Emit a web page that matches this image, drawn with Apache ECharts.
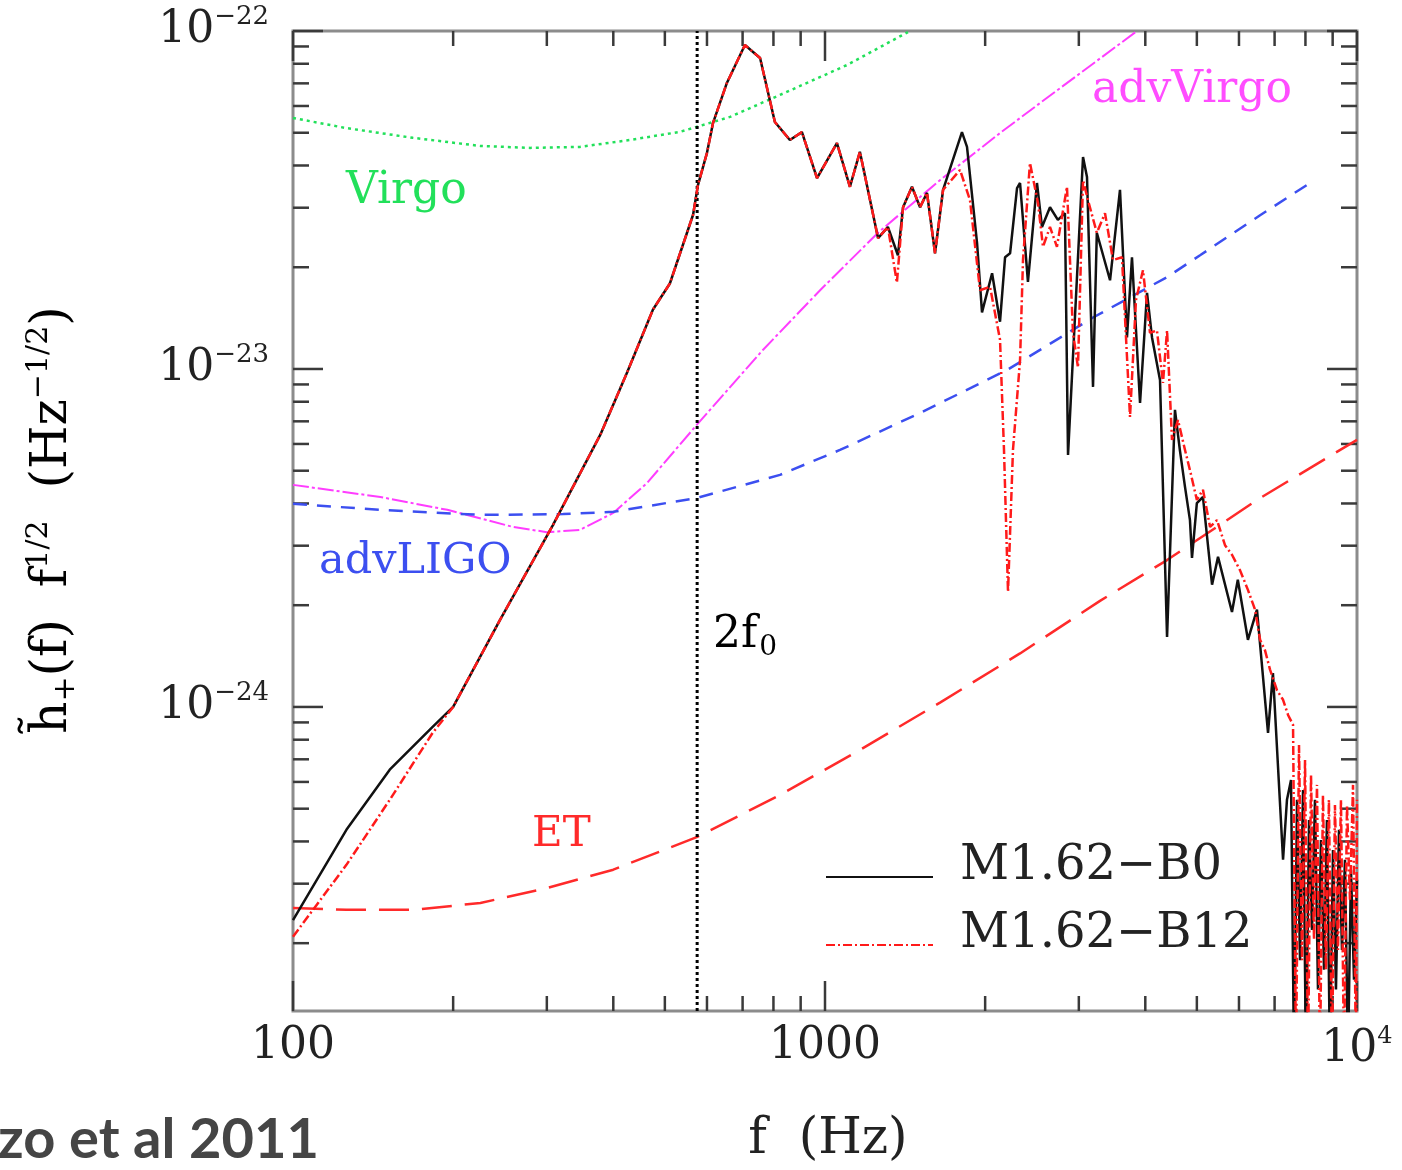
<!DOCTYPE html>
<html><head><meta charset="utf-8">
<script src="https://cdn.jsdelivr.net/npm/echarts@6/dist/echarts.min.js"></script>
<style>html,body{margin:0;padding:0;background:#fff}#c{width:1402px;height:1170px}</style>
</head><body><div id="c"></div>
<script>
// ---- axis ticks / labels ----
const xMajorTicks = [100, 1000, 10000];
const xMinorTicks = [200, 300, 400, 500, 600, 700, 800, 900, 2000, 3000, 4000, 5000, 6000, 7000, 8000, 9000];
const yMajorTicks = [1e-24, 1e-23, 1e-22];
const yMinorTicks = [2e-25, 3e-25, 4e-25, 5e-25, 6e-25, 7e-25, 8e-25, 9e-25,
  2e-24, 3e-24, 4e-24, 5e-24, 6e-24, 7e-24, 8e-24, 9e-24,
  2e-23, 3e-23, 4e-23, 5e-23, 6e-23, 7e-23, 8e-23, 9e-23];
const xLabelValues = [100, 1000, 10000];
const xLabelTexts = ['{b|100}', '{b|1000}', '{b|10}{s|4}'];
const yLabelValues = [1e-24, 1e-23, 1e-22];
const yLabelTexts = ['{b|10}{s|−24}', '{b|10}{s|−23}', '{b|10}{s|−22}'];
const xMin = 100, xMax = 10000, yMin = 1.26e-25, yMax = 1e-22;
const twoF0 = 575;

// ---- detector curves [f (Hz), h f^1/2] ----
const virgo = [[100,5.53e-23],[126,5.16e-23],[168,4.83e-23],[225,4.57e-23],[279,4.51e-23],[346,4.54e-23],
  [430,4.76e-23],[534,5.03e-23],[663,5.57e-23],[823,6.47e-23],[1100,7.93e-23],[1432,9.93e-23]];
const advVirgo = [[100,4.54e-24],[146,4.18e-24],[195,3.83e-24],[259,3.41e-24],[300,3.29e-24],[346,3.34e-24],
  [400,3.75e-24],[463,4.60e-24],[574,6.83e-24],[765,1.14e-23],[979,1.71e-23],[1258,2.53e-23],[1645,3.62e-23],
  [2133,4.99e-23],[2536,6.12e-23],[3148,7.88e-23],[3859,1.0e-22]];
const advLIGO = [[100,3.99e-24],[146,3.83e-24],[225,3.70e-24],[322,3.72e-24],[400,3.78e-24],[574,4.15e-24],
  [823,4.86e-24],[1067,5.76e-24],[1509,7.41e-24],[2199,9.93e-24],[3190,1.42e-23],[4395,1.87e-23],
  [5070,2.17e-23],[6574,2.85e-23],[8160,3.55e-23]];
const einsteinTel = [[100,2.54e-25],[126,2.51e-25],[168,2.51e-25],[225,2.63e-25],[300,2.91e-25],[400,3.30e-25],
  [574,4.12e-25],[823,5.49e-25],[1163,7.46e-25],[1645,1.03e-24],[2326,1.44e-24],[3288,2.06e-24],
  [4395,2.72e-24],[6574,4.15e-24],[10000,6.17e-24]];

// ---- signal spectra ----
const m162B0 = [[100,2.34e-25],[126,4.33e-25],[152,6.52e-25],[183,8.73e-25],[200,1.0e-24],[245,1.81e-24],
  [308,3.45e-24],[378,6.38e-24],[425,9.8e-24],[475,1.50e-23],[511,1.79e-23],[565,2.86e-23],[577,3.50e-23],
  [600,4.36e-23],[616,5.35e-23],[654,7.02e-23],[707,9.09e-23],[755,8.32e-23],[805,5.38e-23],[859,4.76e-23],
  [905,5.02e-23],[966,3.67e-23],[1053,4.66e-23],[1114,3.46e-23],[1163,4.39e-23],[1258,2.44e-23],
  [1313,2.63e-23],[1371,2.17e-23],[1402,3.01e-23],[1457,3.46e-23],[1509,3.01e-23],[1555,3.32e-23],
  [1610,2.20e-23],[1667,3.39e-23],[1809,5.02e-23],[1849,4.54e-23],[1931,2.36e-23],[1973,1.47e-23],
  [2061,1.92e-23],[2133,1.38e-23],[2180,2.14e-23],[2228,2.20e-23],[2296,3.43e-23],[2326,3.55e-23],
  [2407,1.81e-23],[2503,3.55e-23],[2558,2.63e-23],[2648,3.01e-23],[2740,2.76e-23],[2825,2.89e-23],
  [2863,5.57e-24],[3055,4.24e-23],[3108,3.70e-23],[3190,8.85e-24],[3243,2.53e-23],[3434,1.83e-23],
  [3585,3.39e-23],[3695,1.24e-23],[3776,2.14e-23],[3910,7.93e-24],[4030,1.68e-23],[4118,1.24e-23],
  [4263,9.28e-24],[4395,1.61e-24],[4548,7.57e-24],[4645,5.76e-24],[4750,4.48e-24],[4853,3.57e-24],
  [4896,2.76e-24],[5000,4.01e-24],[5134,4.18e-24],[5340,2.30e-24],[5480,2.78e-24],[5821,1.91e-24],
  [5970,2.38e-24],[6237,1.58e-24],[6486,1.94e-24],[6804,8.38e-25],[6950,1.26e-24],[7261,3.53e-25],
  [7385,5.31e-25],[7516,6.08e-25],[7615,9e-26],[7714,5.31e-25],[7815,1.78e-25],[7917,5.68e-25],
  [8020,9e-26],[8125,4.63e-25],[8230,2.19e-25],[8337,5.31e-25],[8446,1.46e-25],[8556,4.04e-25],
  [8670,1.67e-25],[8780,4.63e-25],[8896,9e-26],[9013,3.77e-25],[9130,1.46e-25],[9250,4.33e-25],
  [9371,1.91e-25],[9493,3.53e-25],[9617,9e-26],[9743,3.30e-25],[9871,1.56e-25],[10000,3.08e-25]];
const m162B12 = [[100,2.09e-25],[126,3.41e-25],[152,5.31e-25],[183,8.38e-25],[200,1.0e-24],[245,1.81e-24],
  [308,3.45e-24],[378,6.38e-24],[425,9.8e-24],[475,1.50e-23],[511,1.79e-23],[565,2.86e-23],[577,3.50e-23],
  [600,4.36e-23],[616,5.35e-23],[654,7.02e-23],[707,9.09e-23],[755,8.32e-23],[805,5.38e-23],[859,4.76e-23],
  [905,5.02e-23],[966,3.67e-23],[1053,4.66e-23],[1114,3.46e-23],[1163,4.39e-23],[1258,2.44e-23],
  [1313,2.63e-23],[1365,1.80e-23],[1402,3.01e-23],[1457,3.46e-23],[1509,3.01e-23],[1555,3.32e-23],
  [1610,2.20e-23],[1667,3.39e-23],[1794,3.88e-23],[1873,3.16e-23],[1956,1.71e-23],[2043,1.75e-23],
  [2133,1.22e-23],[2170,5.76e-24],[2208,2.19e-24],[2256,5.76e-24],[2326,1.06e-23],[2356,2.10e-23],
  [2428,4.07e-23],[2514,3.10e-23],[2569,2.30e-23],[2648,2.63e-23],[2729,2.30e-23],[2850,3.46e-23],
  [2925,1.28e-23],[2989,1.01e-23],[3055,3.62e-23],[3121,3.16e-23],[3243,2.53e-23],[3360,2.89e-23],
  [3478,2.10e-23],[3616,2.14e-23],[3744,7.21e-24],[3842,1.60e-23],[3960,1.96e-23],[4082,1.28e-23],
  [4207,1.30e-23],[4318,9.09e-24],[4395,1.30e-23],[4490,6.17e-24],[4608,7.06e-24],[4750,5.76e-24],
  [4853,5.02e-24],[5000,4.10e-24],[5134,4.39e-24],[5294,3.41e-24],[5456,3.57e-24],[5648,3.01e-24],
  [5821,2.82e-24],[6026,2.54e-24],[6237,2.22e-24],[6433,1.94e-24],[6574,1.58e-24],[6716,1.47e-24],
  [6863,1.29e-24],[7074,1.12e-24],[7261,1.05e-24],[7420,9.47e-25],[7582,8.85e-25],[7680,9e-26],
  [7780,7.72e-25],[7883,1.78e-25],[7986,6.97e-25],[8090,9e-26],[8195,6.29e-25],[8302,2.05e-25],
  [8410,5.88e-25],[8520,9e-26],[8630,5.49e-25],[8742,1.67e-25],[8856,5.31e-25],[8974,9e-26],
  [9090,5.13e-25],[9210,1.91e-25],[9330,5.31e-25],[9454,9e-26],[9576,5.13e-25],[9700,2.69e-25],
  [9829,5.88e-25],[9954,9e-26],[10000,5.31e-25]];

const SERIF = 'DejaVu Serif';
const chart = echarts.init(document.getElementById('c'), null, {renderer: 'canvas'});

const tickStyle = {stroke: '#3a3a3a', lineWidth: 2.5};
function renderXTick(params, api) {
  const cs = params.coordSys;
  const p = api.coord([api.value(0), api.value(1)]);
  const L = api.value(2) ? 30 : 15;
  const b = cs.y + cs.height;
  return {type: 'group', children: [
    {type: 'line', shape: {x1: p[0], y1: b, x2: p[0], y2: b - L}, style: tickStyle},
    {type: 'line', shape: {x1: p[0], y1: cs.y, x2: p[0], y2: cs.y + L}, style: tickStyle}
  ]};
}
function renderYTick(params, api) {
  const cs = params.coordSys;
  const p = api.coord([api.value(0), api.value(1)]);
  const L = api.value(2) ? 30 : 16;
  const r = cs.x + cs.width;
  return {type: 'group', children: [
    {type: 'line', shape: {x1: cs.x, y1: p[1], x2: cs.x + L, y2: p[1]}, style: tickStyle},
    {type: 'line', shape: {x1: r, y1: p[1], x2: r - L, y2: p[1]}, style: tickStyle}
  ]};
}
const yLabelRich = {
  b: {fontFamily: SERIF, fontSize: 44, fill: '#222', color: '#222'},
  s: {fontFamily: SERIF, fontSize: 26, fill: '#222', color: '#222', padding: [0, 0, 28, 0]}
};
function renderYLabel(params, api) {
  const cs = params.coordSys;
  const p = api.coord([api.value(0), api.value(1)]);
  const i = api.value(2);
  return {type: 'text', x: cs.x - 24, y: p[1], silent: true,
    style: {text: yLabelTexts[i], rich: yLabelRich, align: 'right', verticalAlign: 'middle', fill: '#222'}};
}
const xTickData = xMajorTicks.map(v => [v, 1e-23, 1]).concat(xMinorTicks.map(v => [v, 1e-23, 0]));
const yTickData = yMajorTicks.map(v => [1000, v, 1]).concat(yMinorTicks.map(v => [1000, v, 0]));
const yLabelData = yLabelValues.map((v, i) => [1000, v, i]);

function findIdx(arr, v) {
  return arr.findIndex(t => Math.abs(Math.log10(v / t)) < 1e-4);
}

const plain = (name, data, color, width, type) => ({
  name, type: 'line', data, symbol: 'none', showSymbol: false, silent: true, clip: true,
  lineStyle: {color, width, type, cap: 'butt'}, itemStyle: {color}
});

chart.setOption({
  animation: false,
  backgroundColor: '#fff',
  grid: {left: 293, top: 31, width: 1064, height: 980, show: true, borderColor: '#8c8c8c', borderWidth: 3,
         containLabel: false, outerBoundsMode: 'none'},
  xAxis: {
    type: 'log', logBase: 10, min: xMin, max: xMax,
    axisLine: {show: false}, axisTick: {show: false}, splitLine: {show: false}, minorTick: {show: false},
    axisLabel: {
      margin: 14, showMinLabel: true, showMaxLabel: true, hideOverlap: false,
      formatter: v => { const i = findIdx(xLabelValues, v); return i < 0 ? '' : xLabelTexts[i]; },
      rich: {
        b: {fontFamily: SERIF, fontSize: 44, color: '#222'},
        s: {fontFamily: SERIF, fontSize: 24, color: '#222', padding: [0, 0, 26, 0]}
      }
    }
  },
  yAxis: {
    type: 'log', logBase: 10, min: yMin, max: yMax,
    axisLine: {show: false}, axisTick: {show: false}, splitLine: {show: false}, minorTick: {show: false},
    axisLabel: {show: false}
  },
  legend: {
    data: ['M1.62−B0', 'M1.62−B12'],
    orient: 'vertical', left: 825, top: 843, padding: 0,
    itemWidth: 107, itemHeight: 30, itemGap: 20, selectedMode: false,
    itemStyle: {color: 'rgba(0,0,0,0)', opacity: 0, borderWidth: 0},
    formatter: name => '{t|' + name + '}',
    textStyle: {rich: {t: {fontFamily: SERIF, fontSize: 48, color: '#222', padding: [0, 0, 20, 22]}}}
  },
  graphic: [
    {type: 'text', x: 346, y: 192, style: {text: 'Virgo', fontFamily: SERIF, fontSize: 44, fill: '#22e05a', align: 'left', verticalAlign: 'middle'}},
    {type: 'text', x: 1092, y: 91, style: {text: 'advVirgo', fontFamily: SERIF, fontSize: 44, fill: '#ff4dff', align: 'left', verticalAlign: 'middle'}},
    {type: 'text', x: 319, y: 562, style: {text: 'advLIGO', fontFamily: SERIF, fontSize: 43, fill: '#3c4ff0', align: 'left', verticalAlign: 'middle'}},
    {type: 'text', x: 532, y: 835, style: {text: 'ET', fontFamily: SERIF, fontSize: 42, fill: '#ff2a2a', align: 'left', verticalAlign: 'middle'}},
    {type: 'text', x: 713, y: 636, style: {
      text: '{m|2f}{sub|0}', align: 'left', verticalAlign: 'middle',
      rich: {m: {fontFamily: SERIF, fontSize: 44, color: '#222'},
             sub: {fontFamily: SERIF, fontSize: 28, color: '#222', padding: [24, 0, 0, 2]}}
    }},
    {type: 'text', x: 828, y: 1140, style: {text: 'f  (Hz)', fontFamily: SERIF, fontSize: 50, fill: '#222', align: 'center', verticalAlign: 'middle'}},
    {type: 'text', x: 53, y: 520, rotation: Math.PI / 2, style: {
      text: '{m|h\u0303}{sub|+}{m|(f)  f}{sup|1/2}{m|  (Hz}{sup|−1/2}{m|)}', align: 'center', verticalAlign: 'middle',
      rich: {m: {fontFamily: SERIF, fontSize: 50, color: '#222'},
             sup: {fontFamily: SERIF, fontSize: 30, color: '#222', padding: [0, 0, 28, 0]},
             sub: {fontFamily: SERIF, fontSize: 30, color: '#222', padding: [26, 0, 0, 0]}}
    }},
    {type: 'text', x: -2, y: 1140, style: {text: 'zo et al 2011', fontFamily: 'Lato', fontWeight: 'bold', fontSize: 56, fill: '#454545', align: 'left', verticalAlign: 'middle'}}
  ],
  series: [
    {type: 'custom', silent: true, data: xTickData, encode: {x: 0, y: 1}, renderItem: renderXTick, z: 1},
    {type: 'custom', silent: true, data: yTickData, encode: {x: 0, y: 1}, renderItem: renderYTick, z: 1},
    {type: 'custom', silent: true, clip: false, data: yLabelData, encode: {x: 0, y: 1}, renderItem: renderYLabel, z: 1},
    plain('Virgo', virgo, '#22e05a', 2.5, [3, 4]),
    plain('advVirgo', advVirgo, '#ff3dff', 2, [16, 3, 3, 3]),
    plain('advLIGO', advLIGO, '#3c4ff0', 2.5, [14, 10]),
    plain('ET', einsteinTel, '#ff2a2a', 2.5, [30, 13]),
    plain('2f0', [[twoF0, yMin], [twoF0, yMax]], '#000', 3, [3, 3]),
    plain('M1.62−B0', m162B0, '#111', 2.5, 'solid'),
    plain('M1.62−B12', m162B12, '#ff1a1a', 2.5, [9, 3, 2, 3])
  ]
});
</script></body></html>
